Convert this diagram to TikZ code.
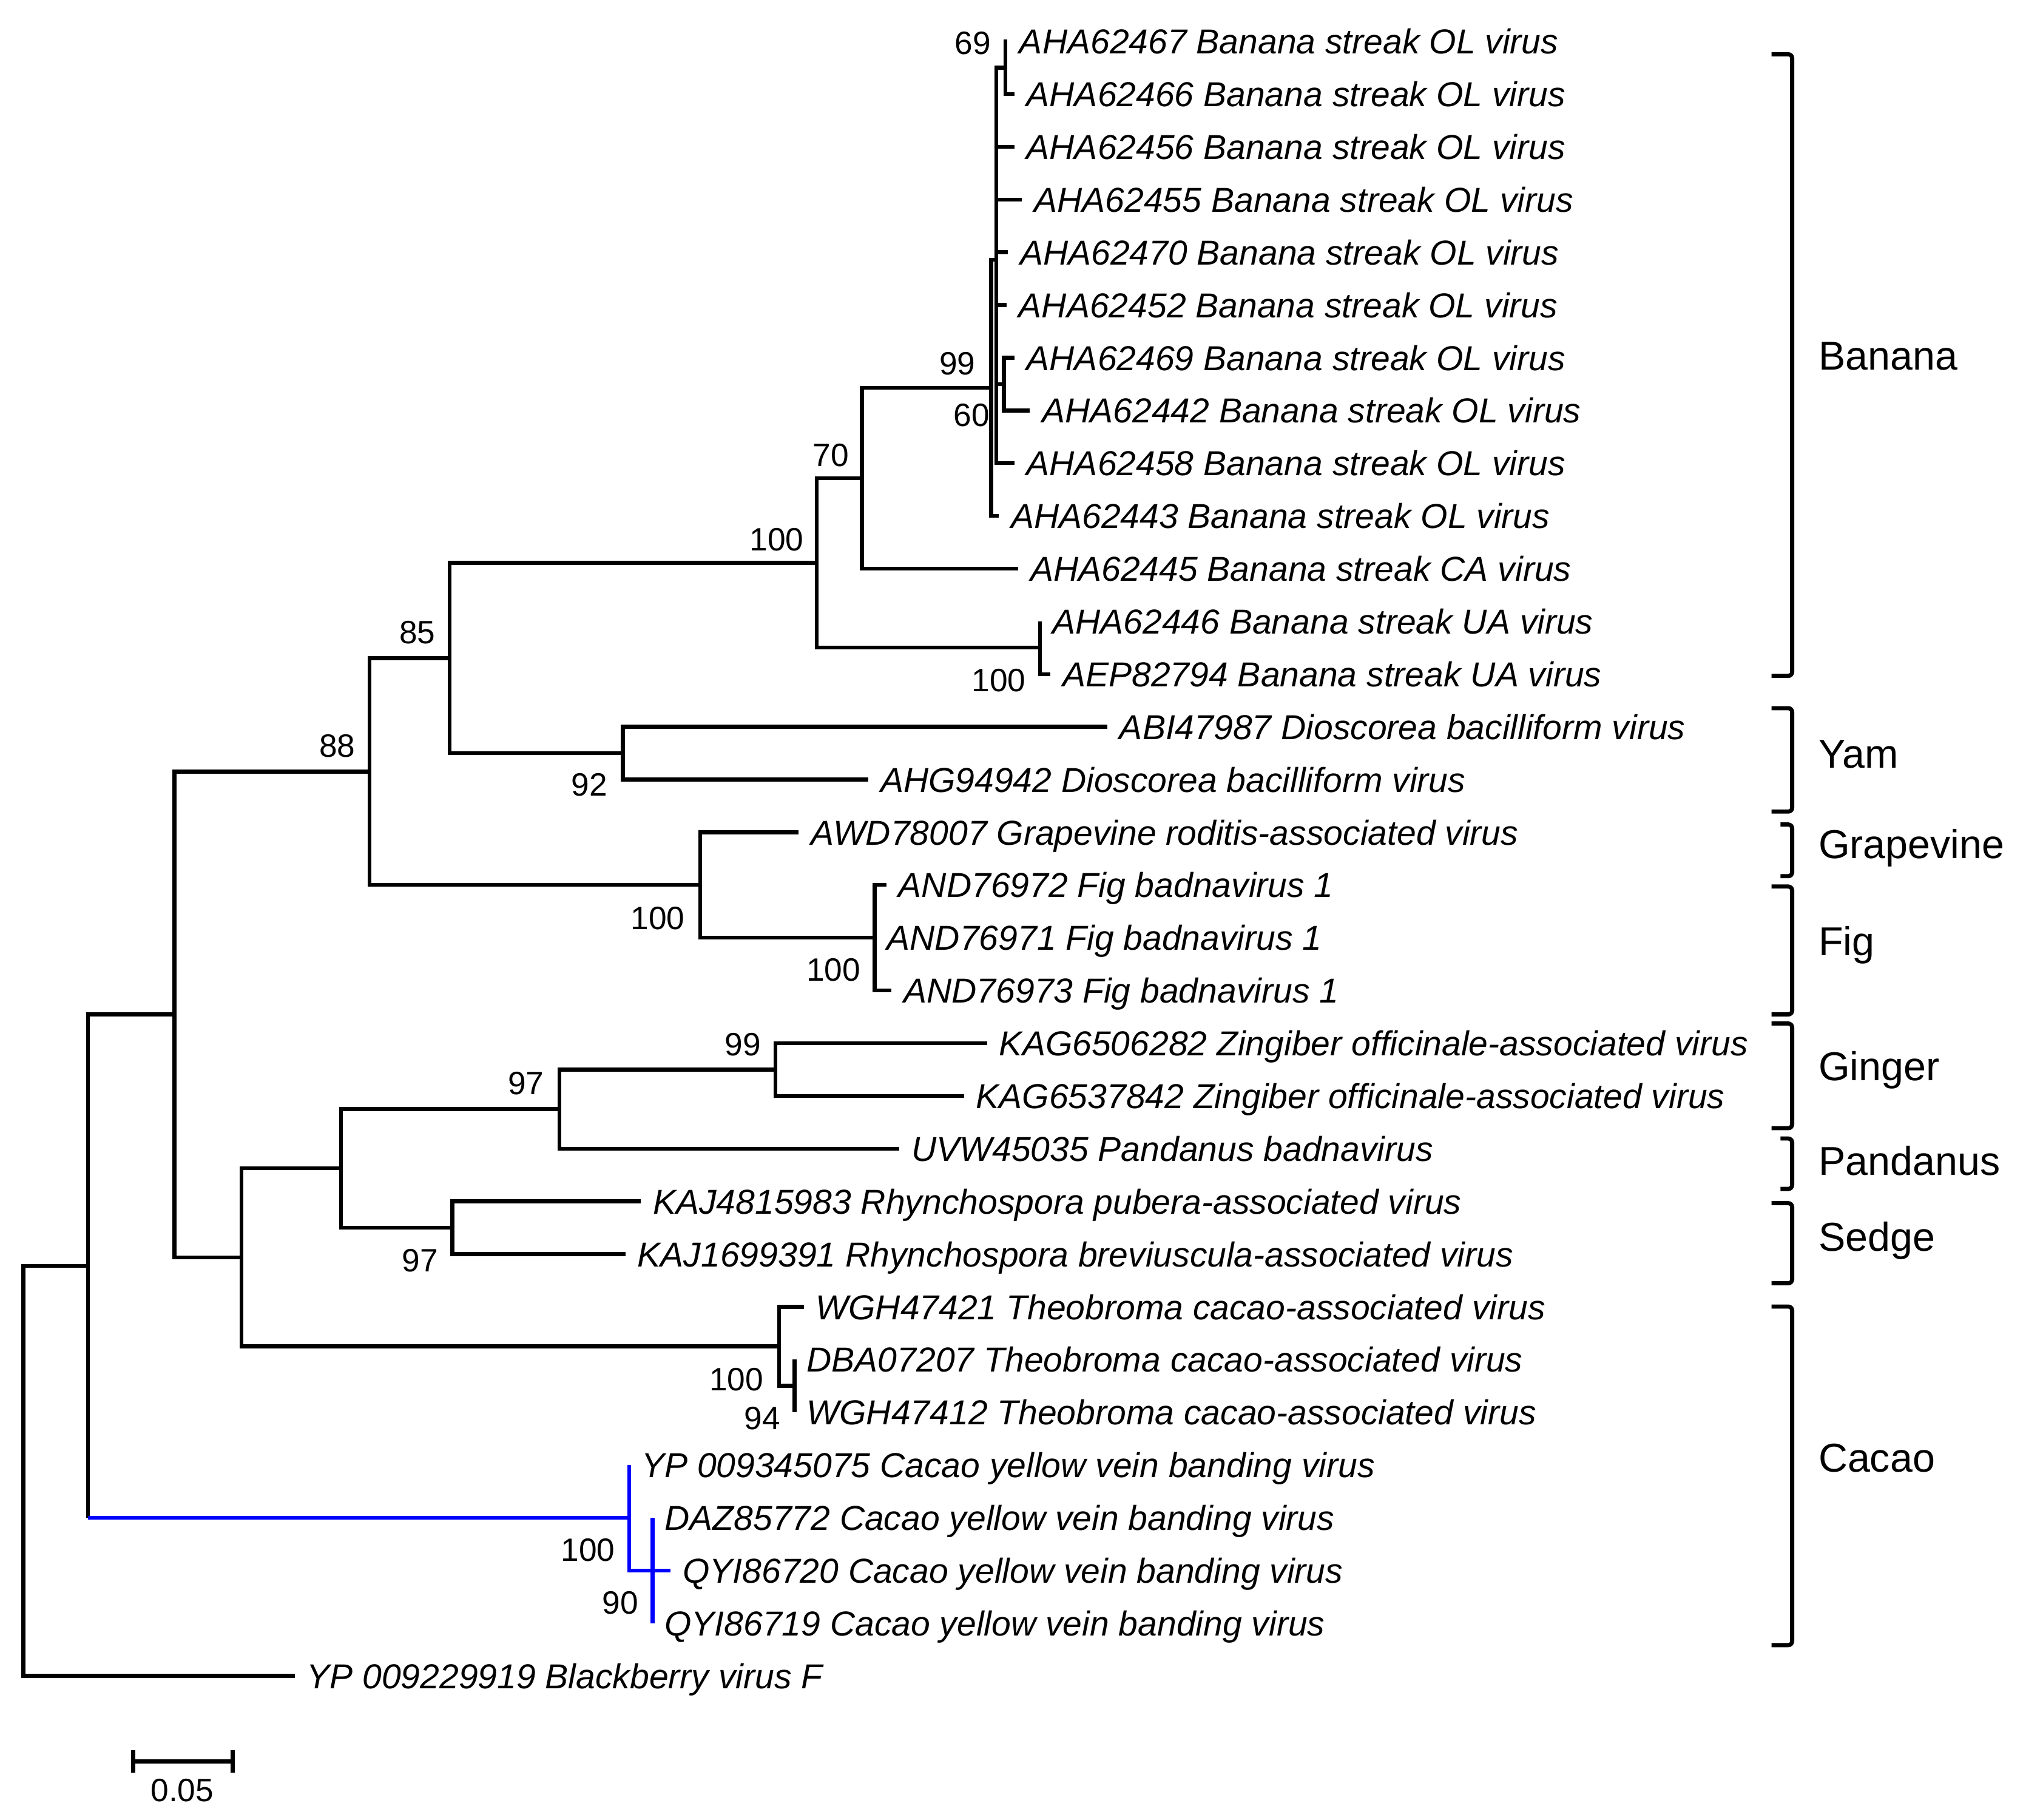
\documentclass[tikz,border=0pt]{standalone}
\usepackage{fontspec}
\setmainfont{Liberation Sans}

\begin{document}
\begin{tikzpicture}[x=0.5pt,y=0.5pt,yscale=-1,xscale=1,
    br/.style={line width=1.5pt},
    blu/.style={line width=1.5pt,draw={rgb,255:red,0;green,0;blue,255}},
    leaf/.style={anchor=west,inner sep=0pt,xshift=4.5pt,text height=9.7pt,text depth=0pt,font=\fontsize{13.4}{16}\selectfont\itshape},
    bs/.style={inner sep=0pt,text height=9pt,text depth=0pt,font=\fontsize{12.5}{15}\selectfont},
    clade/.style={anchor=west,inner sep=0pt,text height=11.2pt,text depth=0pt,font=\fontsize{15.6}{18}\selectfont},
    brk/.style={line width=1.6pt,rounded corners=1.5pt}]
    \useasboundingbox (0,0) rectangle (1568,1408);

    % internal nodes
    \coordinate (A) at (778,52.4);
    \coordinate (C) at (777,297.2);
    \coordinate (B) at (771,201);
    \coordinate (D) at (767,300.1);
    \coordinate (V) at (667,370);
    \coordinate (W) at (805,501.2);
    \coordinate (T) at (632,435.6);
    \coordinate (U) at (482,582.8);
    \coordinate (R) at (348,509.2);
    \coordinate (F) at (677,725.6);
    \coordinate (S) at (542,684.8);
    \coordinate (P) at (286,597);
    \coordinate (I) at (600,827.6);
    \coordinate (H) at (433,858.2);
    \coordinate (E) at (350,950);
    \coordinate (G) at (264,904.1);
    \coordinate (L) at (615,1072.4);
    \coordinate (K) at (603,1041.8);
    \coordinate (Q) at (187,973);
    \coordinate (Y) at (135,785);
    \coordinate (M) at (505,1215.2);
    \coordinate (Z) at (487,1174.4);
    \coordinate (X) at (68,979.7);
    \coordinate (root) at (18,1138);

    % leaf tips
    \coordinate (t1) at (779.5,32);
    \coordinate (t2) at (785,72.8);
    \coordinate (t3) at (785,113.6);
    \coordinate (t4) at (791,154.4);
    \coordinate (t5) at (780,195.2);
    \coordinate (t6) at (779,236);
    \coordinate (t7) at (785,276.8);
    \coordinate (t8) at (797,317.6);
    \coordinate (t9) at (785,358.4);
    \coordinate (t10) at (773,399.2);
    \coordinate (t11) at (788,440);
    \coordinate (t12) at (805,480.8);
    \coordinate (t13) at (813,521.6);
    \coordinate (t14) at (857,562.4);
    \coordinate (t15) at (672,603.2);
    \coordinate (t16) at (618,644);
    \coordinate (t17) at (686,684.8);
    \coordinate (t18) at (677,725.6);
    \coordinate (t19) at (690,766.4);
    \coordinate (t20) at (764,807.2);
    \coordinate (t21) at (746,848);
    \coordinate (t22) at (696,888.8);
    \coordinate (t23) at (496,929.6);
    \coordinate (t24) at (484,970.4);
    \coordinate (t25) at (622,1011.2);
    \coordinate (t26) at (615,1052);
    \coordinate (t27) at (615,1092.8);
    \coordinate (t28) at (487,1133.6);
    \coordinate (t29) at (505,1174.4);
    \coordinate (t30) at (519,1215.2);
    \coordinate (t31) at (505,1256);
    \coordinate (t32) at (228,1296.8);

    % branches
    \draw[br] (A) |- (t1);  \draw[br] (A) |- (t2);
    \draw[br] (C) |- (t7);  \draw[br] (C) |- (t8);
    \draw[br] (B) |- (A);   \draw[br] (B) |- (t3);  \draw[br] (B) |- (t4);
    \draw[br] (B) |- (t5);  \draw[br] (B) |- (t6);  \draw[br] (B) |- (C);
    \draw[br] (B) |- (t9);
    \draw[br] (D) |- (B);   \draw[br] (D) |- (t10);
    \draw[br] (V) |- (D);   \draw[br] (V) |- (t11);
    \draw[br] (W) |- (t12); \draw[br] (W) |- (t13);
    \draw[br] (T) |- (V);   \draw[br] (T) |- (W);
    \draw[br] (U) |- (t14); \draw[br] (U) |- (t15);
    \draw[br] (R) |- (T);   \draw[br] (R) |- (U);
    \draw[br] (F) |- (t17); \draw[br] (F) |- (t18); \draw[br] (F) |- (t19);
    \draw[br] (S) |- (t16); \draw[br] (S) |- (F);
    \draw[br] (P) |- (R);   \draw[br] (P) |- (S);
    \draw[br] (I) |- (t20); \draw[br] (I) |- (t21);
    \draw[br] (H) |- (I);   \draw[br] (H) |- (t22);
    \draw[br] (E) |- (t23); \draw[br] (E) |- (t24);
    \draw[br] (G) |- (H);   \draw[br] (G) |- (E);
    \draw[br] (L) |- (t26); \draw[br] (L) |- (t27);
    \draw[br] (K) |- (t25); \draw[br] (K) |- (L);
    \draw[br] (Q) |- (G);   \draw[br] (Q) |- (K);
    \draw[br] (Y) |- (P);   \draw[br] (Y) |- (Q);
    \draw[br] (X) |- (Y);   \draw[br] (X) -- (X|-Z);
    \draw[br] (root) |- (X); \draw[br] (root) |- (t32);
    % cacao yellow vein banding clade
    \draw[blu] (X|-Z) -- (Z);
    \draw[blu] (Z) |- (t28); \draw[blu] (Z) |- (M);
    \draw[blu] (M) |- (t29); \draw[blu] (M) |- (t30); \draw[blu] (M) |- (t31);

    % Text Node
    \node[leaf] (n1) at (t1) {AHA62467 Banana streak OL virus};
    \node[leaf] (n2) at (t2) {AHA62466 Banana streak OL virus};
    \node[leaf] (n3) at (t3) {AHA62456 Banana streak OL virus};
    \node[leaf] (n4) at (t4) {AHA62455 Banana streak OL virus};
    \node[leaf] (n5) at (t5) {AHA62470 Banana streak OL virus};
    \node[leaf] (n6) at (t6) {AHA62452 Banana streak OL virus};
    \node[leaf] (n7) at (t7) {AHA62469 Banana streak OL virus};
    \node[leaf] (n8) at (t8) {AHA62442 Banana streak OL virus};
    \node[leaf] (n9) at (t9) {AHA62458 Banana streak OL virus};
    \node[leaf] (n10) at (t10) {AHA62443 Banana streak OL virus};
    \node[leaf] (n11) at (t11) {AHA62445 Banana streak CA virus};
    \node[leaf] (n12) at (t12) {AHA62446 Banana streak UA virus};
    \node[leaf] (n13) at (t13) {AEP82794 Banana streak UA virus};
    \node[leaf] (n14) at (t14) {ABI47987 Dioscorea bacilliform virus};
    \node[leaf] (n15) at (t15) {AHG94942 Dioscorea bacilliform virus};
    \node[leaf] (n16) at (t16) {AWD78007 Grapevine roditis-associated virus};
    \node[leaf] (n17) at (t17) {AND76972 Fig badnavirus 1};
    \node[leaf] (n18) at (t18) {AND76971 Fig badnavirus 1};
    \node[leaf] (n19) at (t19) {AND76973 Fig badnavirus 1};
    \node[leaf] (n20) at (t20) {KAG6506282 Zingiber officinale-associated virus};
    \node[leaf] (n21) at (t21) {KAG6537842 Zingiber officinale-associated virus};
    \node[leaf] (n22) at (t22) {UVW45035 Pandanus badnavirus};
    \node[leaf] (n23) at (t23) {KAJ4815983 Rhynchospora pubera-associated virus};
    \node[leaf] (n24) at (t24) {KAJ1699391 Rhynchospora breviuscula-associated virus};
    \node[leaf] (n25) at (t25) {WGH47421 Theobroma cacao-associated virus};
    \node[leaf] (n26) at (t26) {DBA07207 Theobroma cacao-associated virus};
    \node[leaf] (n27) at (t27) {WGH47412 Theobroma cacao-associated virus};
    \node[leaf] (n28) at (t28) {YP 009345075 Cacao yellow vein banding virus};
    \node[leaf] (n29) at (t29) {DAZ85772 Cacao yellow vein banding virus};
    \node[leaf] (n30) at (t30) {QYI86720 Cacao yellow vein banding virus};
    \node[leaf] (n31) at (t31) {QYI86719 Cacao yellow vein banding virus};
    \node[leaf] (n32) at (t32) {YP 009229919 Blackberry virus F};

    % bootstrap values
    \node[bs] (bA) at (753,33) {69};
    \node[bs] (bD) at (741,281) {99};
    \node[bs] (bB) at (752,321) {60};
    \node[bs] (bV) at (643,352) {70};
    \node[bs] (bT) at (601,417) {100};
    \node[bs] (bW) at (773,526) {100};
    \node[bs] (bR) at (323,489) {85};
    \node[bs] (bU) at (456,607) {92};
    \node[bs] (bP) at (261,577) {88};
    \node[bs] (bS) at (509,710) {100};
    \node[bs] (bF) at (645,750) {100};
    \node[bs] (bI) at (575,808) {99};
    \node[bs] (bH) at (407,838) {97};
    \node[bs] (bE) at (325,975) {97};
    \node[bs] (bK) at (570,1067) {100};
    \node[bs] (bL) at (590,1097) {94};
    \node[bs] (bZ) at (455,1199) {100};
    \node[bs] (bM) at (480,1240) {90};

    % host brackets
    \draw[brk] (1371,42) -- (1387,42) -- (1387,523) -- (1371,523);
    \draw[brk] (1371,548) -- (1387,548) -- (1387,628) -- (1371,628);
    \draw[brk] (1378,638) -- (1387,638) -- (1387,678) -- (1378,678);
    \draw[brk] (1371,686) -- (1387,686) -- (1387,785) -- (1371,785);
    \draw[brk] (1371,792) -- (1387,792) -- (1387,873) -- (1371,873);
    \draw[brk] (1378,881) -- (1387,881) -- (1387,920) -- (1378,920);
    \draw[brk] (1371,931) -- (1387,931) -- (1387,993) -- (1371,993);
    \draw[brk] (1371,1011) -- (1387,1011) -- (1387,1273) -- (1371,1273);
    \node[clade] (banana) at (1407,275) {Banana};
    \node[clade] (yam) at (1407,583) {Yam};
    \node[clade] (grape) at (1407,653) {Grapevine};
    \node[clade] (fig) at (1407,728) {Fig};
    \node[clade] (ginger) at (1407,825) {Ginger};
    \node[clade] (pandanus) at (1407,898) {Pandanus};
    \node[clade] (sedge) at (1407,957) {Sedge};
    \node[clade] (cacao) at (1407,1128) {Cacao};

    % scale bar
    \coordinate (s1) at (103,1363);
    \coordinate (s2) at (180,1363);
    \draw[br] (s1) -- (s2);
    \draw[br] ([yshift=-4.25pt]s1) -- ([yshift=4.25pt]s1);
    \draw[br] ([yshift=-4.25pt]s2) -- ([yshift=4.25pt]s2);
    \node[bs] (sbl) at (141,1385) {0.05};
\end{tikzpicture}
\end{document}
